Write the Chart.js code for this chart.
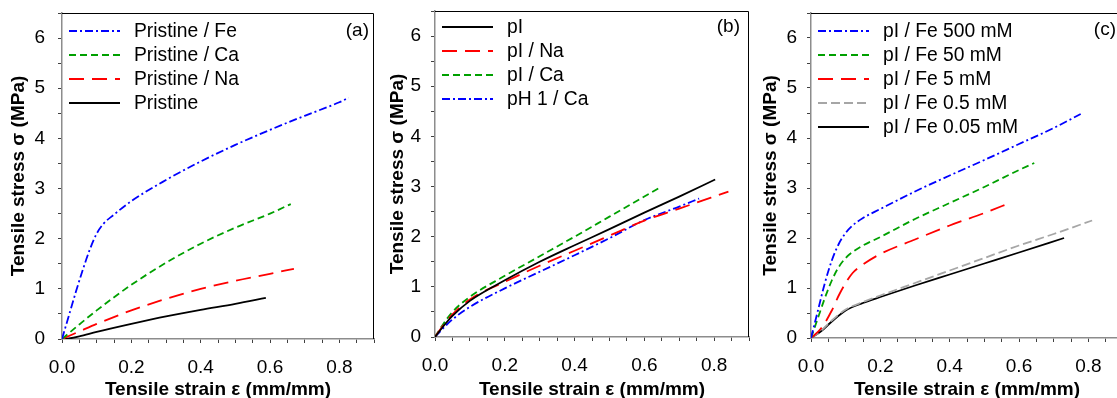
<!DOCTYPE html>
<html lang="en">
<head>
<meta charset="UTF-8">
<title>Tensile stress-strain curves</title>
<script src="https://cdn.jsdelivr.net/npm/chart.js"></script>
<style>
    body { margin: 0; width: 1117px; height: 398px; overflow: hidden; background: #fff; position: relative; }
    canvas { position: absolute; top: 0; }
</style>
</head>
<body>
<canvas id="chartA" width="380" height="398" style="left:0px"></canvas>
<canvas id="chartB" width="372" height="398" style="left:380px"></canvas>
<canvas id="chartC" width="375" height="398" style="left:752px"></canvas>
<script>
// ---- data (strain in mm/mm, stress in MPa) ----
// panel (a)
const aFeX = [0, 0.02, 0.04, 0.06, 0.08, 0.1, 0.12, 0.15, 0.2, 0.3, 0.4, 0.5, 0.6, 0.7, 0.8, 0.827];
const aFeY = [0, 0.47, 0.94, 1.38, 1.78, 2.1, 2.3, 2.48, 2.75, 3.17, 3.54, 3.87, 4.17, 4.45, 4.72, 4.81];
const aCaX = [0, 0.05, 0.1, 0.2, 0.3, 0.4, 0.5, 0.6, 0.66];
const aCaY = [0, 0.29, 0.57, 1.08, 1.52, 1.9, 2.22, 2.5, 2.69];
const aNaX = [0, 0.05, 0.1, 0.2, 0.3, 0.4, 0.5, 0.6, 0.669];
const aNaY = [0, 0.15, 0.3, 0.57, 0.8, 1.0, 1.16, 1.3, 1.4];
const aPrX = [0, 0.02, 0.05, 0.1, 0.2, 0.3, 0.4, 0.5, 0.588];
const aPrY = [0, 0.01, 0.05, 0.14, 0.3, 0.45, 0.58, 0.7, 0.82];

// panel (b)
const bPiX = [0, 0.02, 0.05, 0.1, 0.2, 0.3, 0.4, 0.5, 0.6, 0.7, 0.803];
const bPiY = [0, 0.18, 0.42, 0.72, 1.13, 1.5, 1.83, 2.15, 2.48, 2.8, 3.14];
const bNaX = [0, 0.02, 0.05, 0.1, 0.2, 0.3, 0.4, 0.5, 0.6, 0.7, 0.841];
const bNaY = [0, 0.2, 0.45, 0.75, 1.1, 1.42, 1.72, 2.02, 2.32, 2.56, 2.9];
const bCaX = [0, 0.02, 0.05, 0.1, 0.2, 0.3, 0.4, 0.5, 0.6, 0.647];
const bCaY = [0, 0.22, 0.5, 0.8, 1.22, 1.61, 2.0, 2.4, 2.8, 2.99];
const bPhX = [0, 0.02, 0.05, 0.1, 0.2, 0.3, 0.4, 0.5, 0.6, 0.7, 0.757];
const bPhY = [0, 0.15, 0.35, 0.6, 0.97, 1.3, 1.63, 1.97, 2.33, 2.6, 2.76];

// panel (c)
const cFe500X = [0, 0.02, 0.04, 0.06, 0.08, 0.1, 0.12, 0.15, 0.2, 0.3, 0.4, 0.5, 0.6, 0.7, 0.778];
const cFe500Y = [0, 0.55, 1.1, 1.55, 1.88, 2.1, 2.25, 2.4, 2.58, 2.93, 3.25, 3.56, 3.88, 4.2, 4.48];
const cFe50X = [0, 0.02, 0.04, 0.06, 0.08, 0.1, 0.12, 0.15, 0.2, 0.3, 0.4, 0.5, 0.6, 0.644];
const cFe50Y = [0, 0.4, 0.8, 1.15, 1.42, 1.6, 1.72, 1.85, 2.02, 2.38, 2.7, 3.02, 3.36, 3.5];
const cFe5X = [0, 0.03, 0.06, 0.08, 0.1, 0.12, 0.15, 0.2, 0.3, 0.4, 0.5, 0.577];
const cFe5Y = [0, 0.2, 0.55, 0.85, 1.1, 1.3, 1.47, 1.68, 1.97, 2.25, 2.5, 2.71];
const cFe05X = [0, 0.03, 0.06, 0.1, 0.15, 0.2, 0.3, 0.4, 0.5, 0.6, 0.7, 0.811];
const cFe05Y = [0, 0.15, 0.35, 0.57, 0.72, 0.85, 1.1, 1.35, 1.6, 1.85, 2.08, 2.35];
const cFe005X = [0, 0.03, 0.06, 0.1, 0.15, 0.2, 0.3, 0.4, 0.5, 0.6, 0.73];
const cFe005Y = [0, 0.14, 0.33, 0.55, 0.7, 0.82, 1.05, 1.27, 1.49, 1.71, 2.0];

// axes
const xMin = 0, xMax = 0.9, xStep = 0.05;
const yMin = 0, yMax = 6.5, yStep = 0.5;
const xTitle = 'Tensile strain ε (mm/mm)';
const yTitle = 'Tensile stress σ (MPa)';

const FONT = '"Liberation Sans", Arial, Helvetica, sans-serif';
const BLUE = '#0000ff', GREEN = '#00a000', RED = '#ff0000', GRAY = '#a6a6a6', BLACK = '#000000';
const DASH_DOT = [8, 3, 2, 3];
const SHORT_DASH = [7, 4];
const LONG_DASH = [15, 8];
const GRAY_DASH = [9, 4];

Chart.defaults.font.family = FONT;

function pts(xs, ys) {
    return xs.map((x, i) => ({ x: x, y: ys[i] }));
}

function series(label, xs, ys, color, dash) {
    return {
        label: label,
        data: pts(xs, ys),
        borderColor: color,
        borderWidth: 1.8,
        borderDash: dash,
        pointRadius: 0,
        fill: false,
        cubicInterpolationMode: 'monotone'
    };
}

// frame, panel letter and legend drawn inside the plot area
const panelDecor = {
    id: 'panelDecor',
    afterDraw(chart, args, opts) {
        const ctx = chart.ctx;
        const a = chart.chartArea;
        ctx.save();
        ctx.strokeStyle = '#000';
        ctx.lineWidth = 1;
        ctx.beginPath();
        ctx.moveTo(a.left, a.top + 0.5);
        ctx.lineTo(a.right - 0.5, a.top + 0.5);
        ctx.lineTo(a.right - 0.5, a.bottom);
        ctx.stroke();

        ctx.fillStyle = '#000';
        ctx.font = '19px ' + FONT;
        ctx.textAlign = 'right';
        ctx.textBaseline = 'middle';
        ctx.fillText(opts.letter, a.right - opts.letterRight, a.top + opts.letterTop);

        ctx.font = '19.3px ' + FONT;
        ctx.textAlign = 'left';
        chart.data.datasets.forEach((ds, i) => {
            const y = a.top + opts.legendTop + i * 24;
            ctx.strokeStyle = ds.borderColor;
            ctx.lineWidth = ds.borderWidth;
            ctx.setLineDash(ds.borderDash || []);
            ctx.beginPath();
            ctx.moveTo(a.left + 7, y);
            ctx.lineTo(a.left + 58, y);
            ctx.stroke();
            ctx.setLineDash([]);
            ctx.fillText(ds.label, a.left + 72, y + 1);
        });
        ctx.restore();
    }
};

function makeChart(id, datasets, lay) {
    const ctx = document.getElementById(id).getContext('2d');
    return new Chart(ctx, {
        type: 'line',
        data: { datasets: datasets },
        options: {
            responsive: false,
            animation: false,
            devicePixelRatio: 1,
            layout: { padding: { left: 0, right: lay.padRight, top: lay.padTop, bottom: 0 } },
            plugins: {
                legend: { display: false },
                tooltip: { enabled: false },
                panelDecor: { letter: lay.letter, letterRight: lay.letterRight, letterTop: lay.letterTop, legendTop: lay.legendTop }
            },
            scales: {
                x: {
                    type: 'linear',
                    min: xMin,
                    max: xMax,
                    afterFit: s => {
                        s.height = lay.xHeight;
                        s.paddingLeft = 0;
                        s.paddingRight = 0;
                    },
                    border: { display: true, color: '#8c8c8c', width: 1.5 },
                    grid: { drawOnChartArea: false, drawTicks: true, tickLength: 4, tickColor: '#404040', tickWidth: 1 },
                    ticks: {
                        stepSize: xStep,
                        autoSkip: false,
                        maxRotation: 0,
                        color: '#000',
                        padding: 13,
                        font: { size: 19 },
                        callback: v => (Math.abs(v * 5 - Math.round(v * 5)) < 1e-6 ? v.toFixed(1) : '')
                    },
                    title: {
                        display: true,
                        text: xTitle,
                        color: '#000',
                        font: { size: 19, weight: 'bold', lineHeight: 1 },
                        padding: { top: 0, bottom: -1 }
                    }
                },
                y: {
                    type: 'linear',
                    min: yMin,
                    max: yMax,
                    afterFit: s => {
                        s.width = lay.yWidth;
                        s.paddingTop = 0;
                        s.paddingBottom = 0;
                    },
                    border: { display: true, color: '#8c8c8c', width: 1.5 },
                    grid: { drawOnChartArea: false, drawTicks: true, tickLength: 4, tickColor: '#404040', tickWidth: 1 },
                    ticks: {
                        stepSize: yStep,
                        autoSkip: false,
                        color: '#000',
                        padding: lay.yTickPad,
                        font: { size: 19 },
                        callback: v => (Number.isInteger(v) ? String(v) : '')
                    },
                    title: {
                        display: true,
                        text: yTitle,
                        color: '#000',
                        font: { size: 19, weight: 'bold', lineHeight: 1 },
                        padding: { top: lay.yTitlePad, bottom: 0 }
                    }
                }
            }
        },
        plugins: [panelDecor]
    });
}

makeChart('chartA', [
    series('Pristine / Fe', aFeX, aFeY, BLUE, DASH_DOT),
    series('Pristine / Ca', aCaX, aCaY, GREEN, SHORT_DASH),
    series('Pristine / Na', aNaX, aNaY, RED, LONG_DASH),
    series('Pristine', aPrX, aPrY, BLACK, [])
], { padRight: 6, padTop: 13, xHeight: 59, yWidth: 62, yTickPad: 13, yTitlePad: 9, letter: '(a)', letterRight: 5, letterTop: 18, legendTop: 18 });

makeChart('chartB', [
    series('pI', bPiX, bPiY, BLACK, []),
    series('pI / Na', bNaX, bNaY, RED, LONG_DASH),
    series('pI / Ca', bCaX, bCaY, GREEN, SHORT_DASH),
    series('pH 1 / Ca', bPhX, bPhY, BLUE, DASH_DOT)
], { padRight: 3, padTop: 11, xHeight: 61, yWidth: 55, yTickPad: 10, yTitlePad: 8, letter: '(b)', letterRight: 9, letterTop: 16, legendTop: 16 });

makeChart('chartC', [
    series('pI / Fe 500 mM', cFe500X, cFe500Y, BLUE, DASH_DOT),
    series('pI / Fe 50 mM', cFe50X, cFe50Y, GREEN, SHORT_DASH),
    series('pI / Fe 5 mM', cFe5X, cFe5Y, RED, LONG_DASH),
    series('pI / Fe 0.5 mM', cFe05X, cFe05Y, GRAY, GRAY_DASH),
    series('pI / Fe 0.05 mM', cFe005X, cFe005Y, BLACK, [])
], { padRight: 4, padTop: 13, xHeight: 60, yWidth: 59, yTickPad: 10, yTitlePad: 9, letter: '(c)', letterRight: 7, letterTop: 17, legendTop: 18 });
</script>
</body>
</html>
